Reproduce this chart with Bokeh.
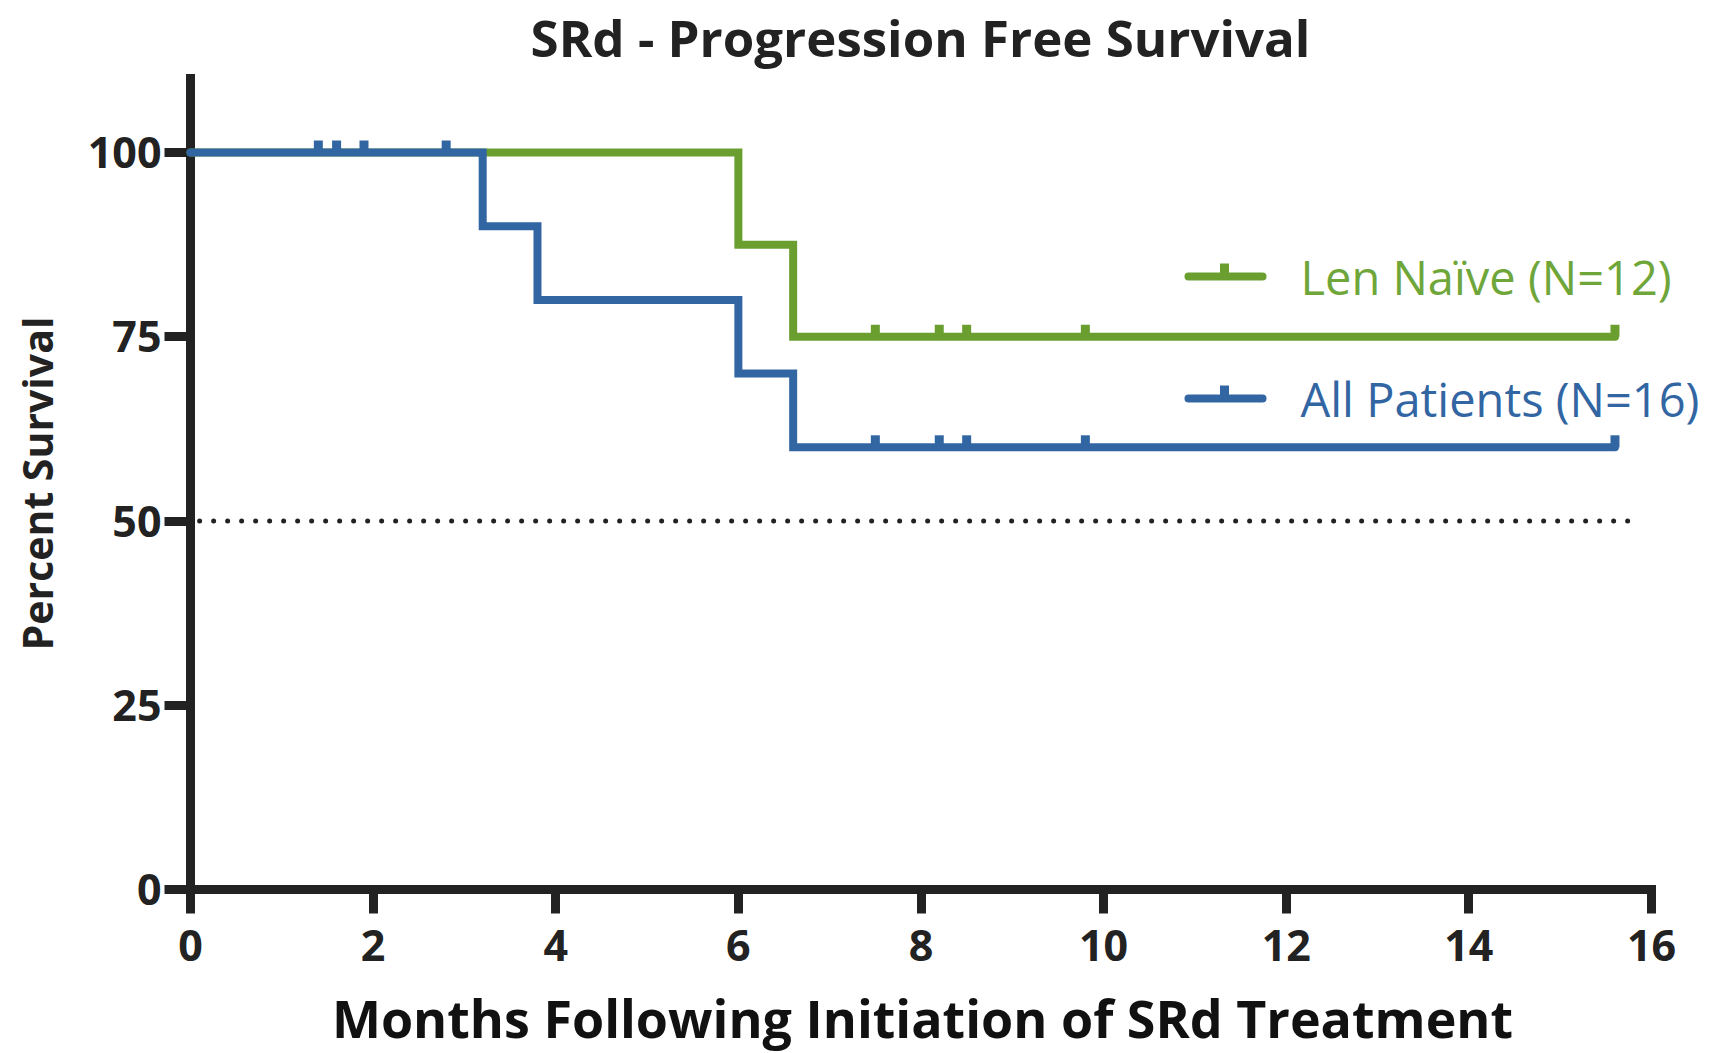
import math
from bokeh.plotting import figure
from bokeh.models import Range1d, Label, FixedTicker
from bokeh.embed import file_html
from bokeh.resources import INLINE

# ---------------- data ----------------
title_text = "SRd - Progression Free Survival"
x_title = "Months Following Initiation of SRd Treatment"
y_title = "Percent Survival"

len_naive_label = "Len Naïve (N=12)"
len_naive_time = [0, 6.0, 6.6, 15.6]
len_naive_surv = [100, 87.5, 75, 75]
len_naive_cens_time = [7.5, 8.2, 8.5, 9.8, 15.6]
len_naive_cens_surv = [75, 75, 75, 75, 75]

all_label = "All Patients (N=16)"
all_time = [0, 3.2, 3.8, 6.0, 6.6, 15.6]
all_surv = [100, 90, 80, 70, 60, 60]
all_cens_time = [1.4, 1.6, 1.9, 2.8, 7.5, 8.2, 8.5, 9.8, 15.6]
all_cens_surv = [100, 100, 100, 100, 60, 60, 60, 60, 60]

median_level = 50
median_span = [0.1, 15.86]

x_ticks = [0, 2, 4, 6, 8, 10, 12, 14, 16]
y_ticks = [0, 25, 50, 75, 100]
x_bounds = (0, 16)
y_bounds = (0, 110)

# ---------------- styling / layout ----------------
GREEN = "#6a9f30"
BLUE = "#3266a3"
GREEN_TXT = "#6fa63a"
AXIS = "#222222"
FONT = "Open Sans"

W, H = 1711, 1053
# pixel positions of the axis origin and extents on the canvas
PX_X0, PX_X16 = 190, 1651
PX_Y0, PX_Y100 = 889, 152
px_x = (PX_X16 - PX_X0) / 16.0
px_y = (PX_Y0 - PX_Y100) / 100.0
x_start = -PX_X0 / px_x
x_end = x_start + W / px_x
y_end = 100 + PX_Y100 / px_y
y_start = y_end - H / px_y


def sx(px):
    return x_start + px / px_x


def sy(py):
    return y_end - py / px_y


p = figure(width=W, height=H, output_backend="svg", toolbar_location=None,
           x_range=Range1d(x_start, x_end), y_range=Range1d(y_start, y_end),
           min_border_left=0, min_border_right=0,
           min_border_top=0, min_border_bottom=0)
p.outline_line_color = None
p.xgrid.visible = False
p.ygrid.visible = False
p.background_fill_color = "white"
p.border_fill_color = "white"

for ax in (p.xaxis[0], p.yaxis[0]):
    ax.fixed_location = 0
    ax.axis_line_width = 9
    ax.axis_line_color = AXIS
    ax.axis_line_cap = "square"
    ax.major_tick_line_width = 9
    ax.major_tick_line_color = AXIS
    ax.major_tick_in = 0
    ax.minor_tick_line_color = None
    ax.major_label_text_font = FONT
    ax.major_label_text_font_style = "bold"
    ax.major_label_text_font_size = "43px"
    ax.major_label_text_color = AXIS

p.xaxis[0].ticker = FixedTicker(ticks=x_ticks)
p.xaxis[0].bounds = x_bounds
p.xaxis[0].major_tick_out = 24
p.xaxis[0].major_label_standoff = 16

p.yaxis[0].ticker = FixedTicker(ticks=y_ticks)
p.yaxis[0].bounds = y_bounds
p.yaxis[0].major_tick_out = 26
p.yaxis[0].major_label_standoff = 3

# median reference line (dotted)
p.line(median_span, [median_level, median_level], line_color=AXIS, line_width=5,
       line_dash="0 14", line_cap="round")

tick_h = 12 / px_y  # censor tick height in data units

# Len naive
p.step(len_naive_time, len_naive_surv, mode="after", line_color=GREEN,
       line_width=8, line_join="miter", line_cap="round", level="overlay")
p.segment(x0=len_naive_cens_time, y0=len_naive_cens_surv, x1=len_naive_cens_time,
          y1=[s + tick_h for s in len_naive_cens_surv], line_color=GREEN,
          line_width=9, level="overlay")

# All patients
p.step(all_time, all_surv, mode="after", line_color=BLUE, line_width=8,
       line_join="miter", line_cap="round", level="overlay")
p.segment(x0=all_cens_time, y0=all_cens_surv, x1=all_cens_time,
          y1=[s + tick_h for s in all_cens_surv], line_color=BLUE,
          line_width=9, level="overlay")

# legend (drawn manually)
leg = [(len_naive_label, GREEN, GREEN_TXT, 276), (all_label, BLUE, BLUE, 398)]
for lab, col, tcol, ypx in leg:
    yv = sy(ypx)
    p.line([sx(1188), sx(1262)], [yv, yv], line_color=col, line_width=8,
           line_cap="round")
    p.segment(x0=[sx(1224)], y0=[yv], x1=[sx(1224)], y1=[yv + 13 / px_y],
              line_color=col, line_width=9)
    p.add_layout(Label(x=sx(1300), y=yv, text=lab, text_font=FONT,
                       text_font_size="47px", text_color=tcol,
                       text_baseline="middle", text_align="left"))

# titles
p.add_layout(Label(x=sx(920), y=sy(36), text=title_text, text_font=FONT,
                   text_font_style="bold", text_font_size="51px", text_color=AXIS,
                   text_align="center", text_baseline="middle"))
p.add_layout(Label(x=sx(922), y=sy(1017), text=x_title, text_font=FONT,
                   text_font_style="bold", text_font_size="52px", text_color="#111111",
                   text_align="center", text_baseline="middle"))
p.add_layout(Label(x=sx(36), y=sy(483), text=y_title, text_font=FONT,
                   text_font_style="bold", text_font_size="41px", text_color=AXIS,
                   text_align="center", text_baseline="middle", angle=math.pi / 2))

open("out.html", "w").write(file_html(p, INLINE))
